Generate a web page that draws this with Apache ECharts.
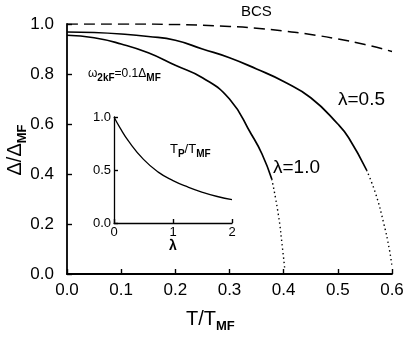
<!DOCTYPE html>
<html>
<head>
<meta charset="utf-8">
<script src="https://cdn.jsdelivr.net/npm/echarts@6/dist/echarts.min.js"></script>
<style>
  html, body { margin: 0; padding: 0; background: #fff; }
  #chart { width: 409px; height: 339px; }
</style>
</head>
<body>
<div id="chart"></div>
<script>
// main panel: gap ratio vs reduced temperature
var bcsCurve = [[0, 1.0], [0.1, 1.0], [0.2, 0.998], [0.3, 0.99], [0.35, 0.983], [0.4, 0.972],
    [0.45, 0.958], [0.5, 0.94], [0.55, 0.918], [0.6, 0.89]];
var lam05Solid = [[0, 0.968], [0.05, 0.966], [0.1, 0.96], [0.15, 0.95], [0.2, 0.935], [0.25, 0.90],
    [0.3, 0.865], [0.35, 0.82], [0.4, 0.77], [0.45, 0.705], [0.5, 0.60], [0.52, 0.545], [0.553, 0.416]];
var lam05Dotted = [[0.553, 0.416], [0.57, 0.32], [0.585, 0.2], [0.595, 0.1], [0.6, 0.03]];
var lam10Solid = [[0, 0.955], [0.05, 0.945], [0.1, 0.92], [0.15, 0.885], [0.2, 0.835], [0.25, 0.785],
    [0.3, 0.70], [0.34, 0.56], [0.36, 0.48], [0.378, 0.38]];
var lam10Dotted = [[0.378, 0.38], [0.39, 0.24], [0.398, 0.1], [0.402, 0.02]];
var mainXTicks = [0, 0.6, 0.1];
var mainYTicks = [0, 1.0, 0.2];

// inset: Tp/TMF vs lambda
var insetCurve = [[0, 1.0], [0.1, 0.9], [0.25, 0.77], [0.5, 0.6], [0.75, 0.48], [1, 0.40],
    [1.25, 0.34], [1.5, 0.29], [1.75, 0.25], [2, 0.22]];
var insetXTicks = [0, 2, 1];
var insetYTicks = [0, 1.0, 0.5];

var font = 'Liberation Sans';
var myChart = echarts.init(document.getElementById('chart'));

function axisBase(fontSize, fmt) {
    return {
        axisLine: { show: true, lineStyle: { color: '#000', width: 1.8 } },
        axisTick: { show: true, inside: true, length: 5, lineStyle: { color: '#000', width: 1.4 } },
        splitLine: { show: false },
        axisLabel: { color: '#000', fontFamily: font, fontSize: fontSize, formatter: fmt }
    };
}

var mainX = axisBase(17, function (v) { return v.toFixed(1); });
mainX.gridIndex = 0; mainX.type = 'value';
mainX.min = mainXTicks[0]; mainX.max = mainXTicks[1]; mainX.interval = mainXTicks[2];
mainX.axisLabel.margin = 8;

var mainY = axisBase(17, function (v) { return v.toFixed(1); });
mainY.gridIndex = 0; mainY.type = 'value';
mainY.min = mainYTicks[0]; mainY.max = mainYTicks[1]; mainY.interval = mainYTicks[2];
mainY.axisLabel.margin = 13;

var inX = axisBase(13, function (v) { return String(v); });
inX.gridIndex = 1; inX.type = 'value';
inX.min = insetXTicks[0]; inX.max = insetXTicks[1]; inX.interval = insetXTicks[2];
inX.axisLine.lineStyle.width = 1.3;
inX.axisTick.length = 4;
inX.axisLabel.margin = 3;

var inY = axisBase(13, function (v) { return v.toFixed(1); });
inY.gridIndex = 1; inY.type = 'value';
inY.min = insetYTicks[0]; inY.max = insetYTicks[1]; inY.interval = insetYTicks[2];
inY.axisLine.lineStyle.width = 1.3;
inY.axisTick.length = 4;
inY.axisLabel.margin = 3;

var sub = { fontFamily: font, fontSize: 10, fontWeight: 'bold', color: '#000', verticalAlign: 'bottom', padding: [0, 0, -3, 0] };
var bigSub = { fontFamily: font, fontSize: 13, fontWeight: 'bold', color: '#000', verticalAlign: 'bottom', padding: [0, 0, -4, 0] };

option = {
    animation: false,
    backgroundColor: '#fff',
    grid: [
        { left: 67, right: 17, top: 24, bottom: 65 },
        { left: 114, right: 177, top: 117, bottom: 116 }
    ],
    xAxis: [mainX, inX],
    yAxis: [mainY, inY],
    series: [
        { type: 'line', xAxisIndex: 0, yAxisIndex: 0, data: bcsCurve, smooth: true, showSymbol: false,
          lineStyle: { color: '#000', width: 1.5, type: [11, 6] } },
        { type: 'line', xAxisIndex: 0, yAxisIndex: 0, data: lam05Solid, smooth: true, showSymbol: false,
          lineStyle: { color: '#000', width: 1.7 } },
        { type: 'line', xAxisIndex: 0, yAxisIndex: 0, data: lam05Dotted, smooth: true, showSymbol: false,
          lineStyle: { color: '#000', width: 1.4, type: [1.4, 3] } },
        { type: 'line', xAxisIndex: 0, yAxisIndex: 0, data: lam10Solid, smooth: true, showSymbol: false,
          lineStyle: { color: '#000', width: 1.7 } },
        { type: 'line', xAxisIndex: 0, yAxisIndex: 0, data: lam10Dotted, smooth: true, showSymbol: false,
          lineStyle: { color: '#000', width: 1.4, type: [1.4, 3] } },
        { type: 'line', xAxisIndex: 1, yAxisIndex: 1, data: insetCurve, smooth: true, showSymbol: false,
          lineStyle: { color: '#000', width: 1.3 } }
    ],
    graphic: [
        { type: 'text', left: 241, top: 4, style: { text: 'BCS', fontFamily: font, fontSize: 15, fill: '#000' } },
        { type: 'text', left: 338, top: 90, style: { text: 'λ=0.5', fontFamily: font, fontSize: 19, fill: '#000' } },
        { type: 'text', left: 273, top: 158, style: { text: 'λ=1.0', fontFamily: font, fontSize: 19, fill: '#000' } },
        { type: 'text', left: 88, top: 68, style: {
            text: '{t|ω}{s|2kF}{t|=0.1Δ}{s|MF}', fill: '#000',
            rich: { t: { fontFamily: font, fontSize: 12, color: '#000' }, s: sub } } },
        { type: 'text', left: 170, top: 143, style: {
            text: '{t|T}{s|P}{t|/T}{s|MF}', fill: '#000',
            rich: { t: { fontFamily: font, fontSize: 13, color: '#000' }, s: sub } } },
        { type: 'text', left: 169, top: 239, style: { text: 'λ', fontFamily: font, fontSize: 14, fontWeight: 'bold', fill: '#000' } },
        { type: 'text', left: 186, top: 309, style: {
            text: '{t|T/T}{s|MF}', fill: '#000',
            rich: { t: { fontFamily: font, fontSize: 20, color: '#000' }, s: bigSub } } },
        { type: 'text', x: 15, y: 150, rotation: Math.PI / 2, style: {
            text: '{t|Δ/Δ}{s|MF}', fill: '#000', align: 'center', verticalAlign: 'middle',
            rich: { t: { fontFamily: font, fontSize: 20, color: '#000' }, s: bigSub } } }
    ]
};
myChart.setOption(option);
</script>
</body>
</html>
